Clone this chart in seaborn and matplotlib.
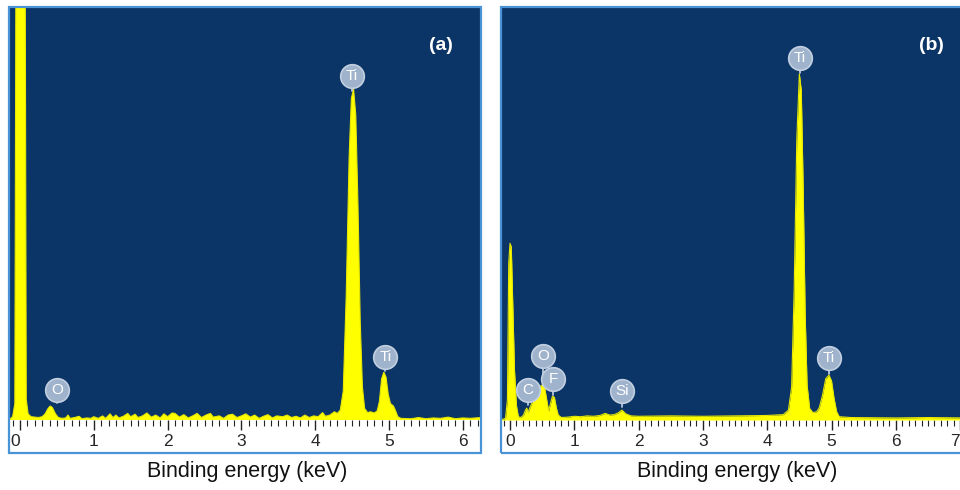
import matplotlib
matplotlib.use("Agg")
import matplotlib.pyplot as plt
import seaborn as sns
import pandas as pd
from matplotlib.patches import Rectangle
from matplotlib.ticker import MultipleLocator, FixedLocator

# ---------------- data ----------------
# Panel (a): EDS spectrum, energy (keV) and counts (arbitrary units, 1000 = top of plot)
a_energy = [-0.15, -0.10, -0.07, -0.05, 0.065, 0.085, 0.11, 0.15, 0.20, 0.25, 0.30, 0.34,
            0.38, 0.41, 0.44, 0.48, 0.52, 0.57, 0.62, 0.65, 0.68, 0.74, 0.80, 0.84, 0.90,
            0.96, 1.00, 1.06, 1.12, 1.16, 1.22, 1.26, 1.30, 1.34, 1.40, 1.46, 1.50, 1.56,
            1.60, 1.66, 1.72, 1.78, 1.84, 1.90, 1.95, 2.00, 2.06, 2.10, 2.16, 2.22, 2.28,
            2.34, 2.40, 2.46, 2.52, 2.58, 2.62, 2.70, 2.76, 2.82, 2.88, 2.94, 3.00, 3.06,
            3.12, 3.18, 3.24, 3.30, 3.36, 3.42, 3.48, 3.56, 3.62, 3.68, 3.74, 3.80, 3.86,
            3.92, 3.98, 4.04, 4.10, 4.14, 4.20, 4.26, 4.30, 4.34, 4.38, 4.42, 4.46, 4.49,
            4.52, 4.55, 4.58, 4.61, 4.64, 4.67, 4.71, 4.75, 4.80, 4.84, 4.87, 4.90, 4.93,
            4.96, 4.99, 5.02, 5.06, 5.09, 5.12, 5.16, 5.30, 5.40, 5.50, 5.60, 5.70, 5.80,
            5.90, 6.00, 6.10, 6.25]
a_counts = [0, 8, 40, 1500, 1500, 50, 15, 8, 7, 6, 8, 15,
            28, 34, 30, 15, 6, 4, 5, 12, 4, 6, 9, 3, 5,
            4, 8, 4, 10, 4, 15, 6, 12, 5, 9, 16, 8, 14,
            6, 10, 17, 7, 12, 5, 15, 8, 17, 16, 7, 13, 5,
            10, 16, 6, 12, 16, 7, 10, 4, 12, 14, 6, 10, 15,
            7, 12, 4, 9, 13, 5, 10, 8, 12, 6, 9, 5, 12,
            6, 10, 8, 18, 9, 12, 20, 16, 24, 70, 300, 640, 780,
            804, 740, 520, 240, 80, 28, 18, 20, 17, 22, 45, 100, 116,
            104, 62, 40, 34, 22, 8, 4, 3, 6, 3, 5, 4, 7,
            3, 5, 4, 6]

# Panel (b)
b_energy = [-0.15, -0.07, -0.04, -0.02, 0.00, 0.02, 0.04, 0.07, 0.10, 0.13, 0.17, 0.21,
            0.24, 0.26, 0.28, 0.31, 0.35, 0.39, 0.43, 0.47, 0.50, 0.54, 0.57, 0.60, 0.63,
            0.66, 0.69, 0.72, 0.75, 0.80, 0.90, 1.00, 1.10, 1.20, 1.30, 1.40, 1.48, 1.55,
            1.62, 1.68, 1.74, 1.80, 1.88, 2.00, 2.50, 3.00, 3.50, 4.00, 4.25, 4.33, 4.38,
            4.42, 4.46, 4.50, 4.53, 4.56, 4.59, 4.62, 4.66, 4.71, 4.77, 4.81, 4.86, 4.91,
            4.96, 5.00, 5.04, 5.08, 5.12, 5.30, 6.00, 6.50, 7.10]
b_counts = [0, 4, 50, 380, 429, 420, 300, 120, 35, 8, 6, 12,
            24, 29, 18, 30, 45, 60, 72, 82, 85, 78, 50, 22, 40,
            58, 55, 30, 12, 6, 7, 9, 8, 10, 9, 11, 16, 12,
            13, 17, 24, 15, 10, 9, 10, 9, 10, 11, 13, 24, 80,
            320, 680, 840, 800, 560, 260, 85, 28, 18, 20, 30, 60, 100,
            109, 95, 52, 20, 8, 6, 5, 6, 5]

# Peak labels: element, energy of label, label centre height, stem bottom height
a_label_text = ["O", "Ti", "Ti"]
a_label_x = [0.50, 4.50, 4.95]
a_label_y = [73, 835, 152]
a_label_stem = [41, 799, 119]

b_label_text = ["C", "O", "F", "Si", "Ti", "Ti"]
b_label_x = [0.28, 0.51, 0.67, 1.74, 4.51, 4.96]
b_label_y = [73, 155, 99, 70, 879, 150]
b_label_stem = [36, 85, 61, 31, 843, 111]

a_ticks = [0, 1, 2, 3, 4, 5, 6]
b_ticks = [0, 1, 2, 3, 4, 5, 6, 7]
x_title = "Binding energy (keV)"

# ---------------- style ----------------
sns.set_style("white")
plt.rcParams["font.family"] = ["Liberation Sans", "DejaVu Sans"]

NAVY = "#0b3566"
YELLOW = "#ffff00"
FRAME = "#4a93d6"
BADGE = "#9fb3cc"

W, H = 960, 490
fig = plt.figure(figsize=(9.6, 4.9), dpi=100)
fig.patch.set_facecolor("white")


def px_axes(x0, y0, x1, y1):
    return fig.add_axes([x0 / W, 1 - y1 / H, (x1 - x0) / W, (y1 - y0) / H])


def draw_panel(ax, energy, counts, xlim, ticks, lab_t, lab_x, lab_y, lab_s, tag, tag_x):
    df = pd.DataFrame({"energy": energy, "counts": counts})
    ax.set_facecolor(NAVY)
    ax.fill_between(df["energy"], 0, df["counts"], color=YELLOW, lw=0, zorder=2)
    sns.lineplot(data=df, x="energy", y="counts", ax=ax, color="#e6e600", lw=0.8,
                 zorder=3, sort=False)
    ax.set_xlim(*xlim)
    ax.set_ylim(0, 1000)
    for s in ax.spines.values():
        s.set_visible(False)
    ax.set_yticks([])
    ax.set_ylabel("")
    ax.set_xlabel("")
    ax.xaxis.set_major_locator(FixedLocator(ticks))
    ax.xaxis.set_minor_locator(MultipleLocator(0.1))
    ax.set_xticklabels([str(t) for t in ticks])
    ax.tick_params(axis="x", which="major", direction="out", length=7, width=1,
                   color="#222222", labelsize=12.5, pad=3, bottom=True)
    ax.tick_params(axis="x", which="minor", direction="out", length=4, width=0.8,
                   color="#222222", bottom=True)
    for t, x, y, s in zip(lab_t, lab_x, lab_y, lab_s):
        ax.plot([x, x], [s, y], color="#c9d5e5", lw=1.2, zorder=4)
        ax.plot([x], [y], marker="o", markersize=17, markerfacecolor=BADGE,
                markeredgecolor="#c2cfe0", markeredgewidth=1.2, zorder=5)
        ax.text(x, y, t, color="white", fontsize=11, ha="center", va="center", zorder=6)
    fig.text(tag_x / W, 1 - 45 / H, tag, color="white", fontsize=14, fontweight="bold",
             ha="center", va="center")


# panel (a)
ax_a = px_axes(10, 8, 480, 420)
x0a, sa = 20, 73.8
draw_panel(ax_a, a_energy, a_counts, ((10 - x0a) / sa, (480 - x0a) / sa), a_ticks,
           a_label_text, a_label_x, a_label_y, a_label_stem, "(a)", 441)
ax_a.get_xticklabels()[0].set_horizontalalignment("right")

# panel (b)
ax_b = px_axes(502, 8, 966, 420)
x0b, sb = 510, 64.3
draw_panel(ax_b, b_energy, b_counts, ((502 - x0b) / sb, (966 - x0b) / sb), b_ticks,
           b_label_text, b_label_x, b_label_y, b_label_stem, "(b)", 931)
ax_b.get_xticklabels()[-1].set_horizontalalignment("right")

# frames around each panel (plot area + tick strip)
for x0, x1 in [(9, 481), (501, 968)]:
    fig.patches.append(Rectangle((x0 / W, 1 - 453 / H), (x1 - x0) / W, (453 - 7) / H,
                                 transform=fig.transFigure, fill=False,
                                 edgecolor=FRAME, lw=1.6, zorder=10))

fig.text(247 / W, 1 - 471 / H, x_title, fontsize=15.5, ha="center", va="center", color="#111111")
fig.text(737 / W, 1 - 471 / H, x_title, fontsize=15.5, ha="center", va="center", color="#111111")

fig.savefig("out.png", dpi=100, facecolor="white")
